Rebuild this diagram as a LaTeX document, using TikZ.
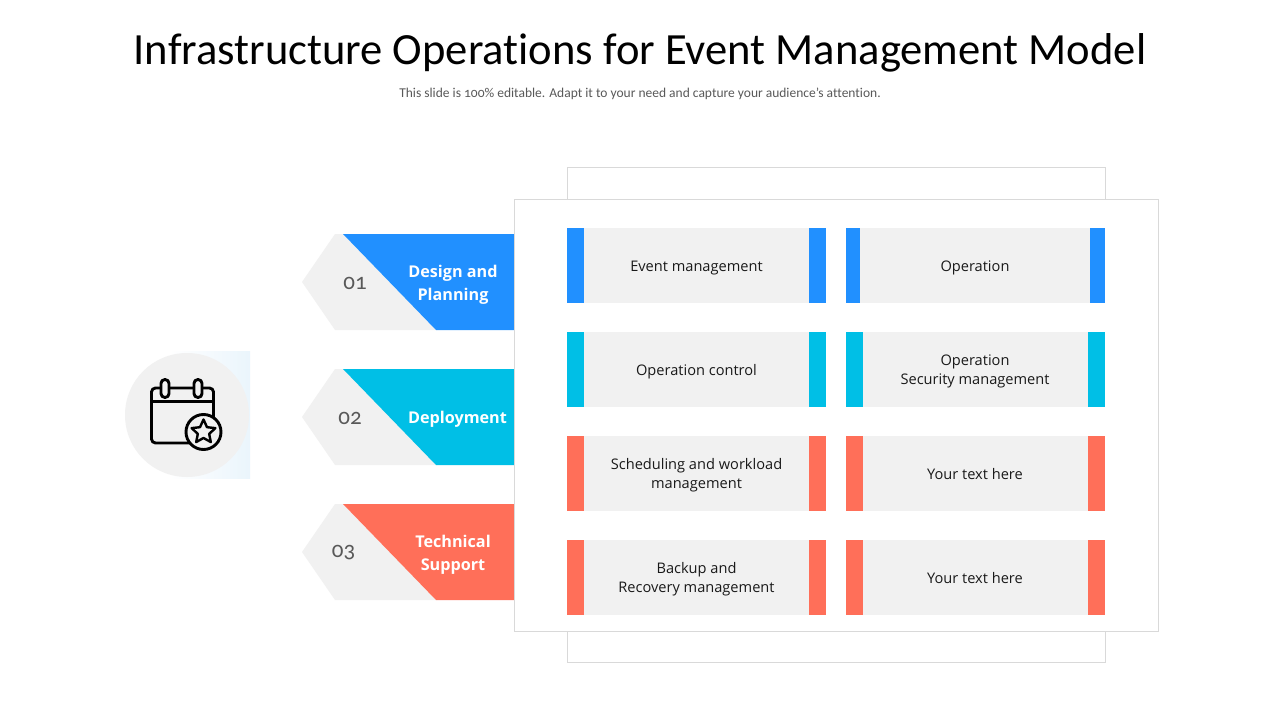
\documentclass[tikz,border=0pt]{standalone}
\usepackage{fontspec}
\setmainfont{Open Sans}
\newfontfamily\titlefont[Numbers=OldStyle,Ligatures=NoCommon]{Carlito}
\usetikzlibrary{shapes.geometric}
\definecolor{cblue}{HTML}{2190FF}
\definecolor{ccyan}{HTML}{00BFE6}
\definecolor{cred}{HTML}{FF6F59}
\definecolor{cgray}{HTML}{F1F1F1}
\definecolor{cline}{HTML}{D9D9D9}
\definecolor{cpale}{HTML}{EAF5FC}
\tikzset{
  x=1pt,y=-1pt,
  panel/.style={draw=cline,line width=0.8pt,fill=white},
  cardtext/.style={align=center,font=\fontsize{14.6}{19}\selectfont,text=black!90,inner sep=0pt},
  headtext/.style={align=center,font=\fontsize{16.2}{23}\selectfont\bfseries,text=white,inner sep=0pt},
  numtext/.style={font=\titlefont\fontsize{23}{23}\selectfont,text=black!65,inner sep=0pt},
  iconline/.style={draw=black,line width=2.9pt,line join=round},
}
\newcommand{\cardrow}[8]{% y, colour, left text, right text, bar ends, id
  \fill[cgray] (567,#1) rectangle (826,#1+75);
  \fill[#2] (567,#1) rectangle (#5,#1+75);
  \fill[#2] (809,#1) rectangle (826,#1+75);
  \fill[cgray] (846,#1) rectangle (1105,#1+75);
  \fill[#2] (846,#1) rectangle (#6,#1+75);
  \fill[#2] (#7,#1) rectangle (1105,#1+75);
  \node[cardtext] (L#8) at (696.5,#1+39.6) {\strut #3\strut};
  \node[cardtext] (R#8) at (975,#1+39.6) {\strut #4\strut};
}
\newcommand{\arrowrow}[7]{% y, colour, number, text, text x, id, number x
  \fill[cgray] (335,#1) -- (343,#1) -- (436,#1+96) -- (335,#1+96) -- (302,#1+48) -- cycle;
  \fill[#2] (343,#1) -- (514,#1) -- (514,#1+96) -- (436,#1+96) -- cycle;
  \node[numtext] (N#6) at (#7,#1+49) {#3};
  \node[headtext] (H#6) at (#5,#1+50.5) {#4};
}
\begin{document}
\begin{tikzpicture}
\useasboundingbox (0,0) rectangle (1280,720);
\fill[white] (0,0) rectangle (1280,720);
\node[inner sep=0pt,font=\titlefont\fontsize{44.6}{44.6}\selectfont,text=black] (title) at (640,53) {Infrastructure Operations for Event Management Model};
\node[inner sep=0pt,font=\titlefont\fontsize{13.5}{13.5}\selectfont,text=black!65] (sub) at (640,94) {This slide is 100\% editable. Adapt it to your need and capture your audience’s attention.};
% icon
\shade[left color=white,right color=cpale,shading angle=90] (170,351) rectangle (250,478.5);
\fill[cgray] (187,415) circle (62);
\draw[iconline,rounded corners=4pt] (151.5,388) rectangle (213.5,443);
\draw[iconline] (151.5,401.5) -- (213.5,401.5);
\draw[iconline,fill=cgray,rounded corners=3.9pt] (161,379.5) rectangle (169,397.5);
\draw[iconline,fill=cgray,rounded corners=3.9pt] (194,379.5) rectangle (202,397.5);
\node[circle,draw=black,line width=2.9pt,fill=cgray,minimum size=35pt,inner sep=0pt] (badge) at (203.5,432) {};
\node[star,star points=5,star point ratio=2.1,draw=black,line width=2.4pt,line join=round,minimum size=25pt,inner sep=0pt] (badgestar) at (203.5,432) {};
% arrows
\arrowrow{234}{cblue}{01}{Design and\\Planning}{453}{a}{355}
\arrowrow{369}{ccyan}{02}{Deployment}{457.5}{b}{350}
\arrowrow{504}{cred}{03}{Technical\\Support}{453}{c}{343.5}
% panels
\draw[panel] (567.5,167.5) rectangle (1105.5,662.5);
\draw[panel] (514.5,199.5) rectangle (1158.5,631.5);
% cards
\cardrow{228}{cblue}{Event management}{Operation}{584}{860}{1090}{a}
\cardrow{332}{ccyan}{Operation control}{Operation\\Security management}{584}{863}{1088}{b}
\cardrow{436}{cred}{Scheduling and workload\\management}{Your text here}{584}{863}{1088}{c}
\cardrow{540}{cred}{Backup and\\Recovery management}{Your text here}{584}{863}{1088}{d}
\end{tikzpicture}
\end{document}
